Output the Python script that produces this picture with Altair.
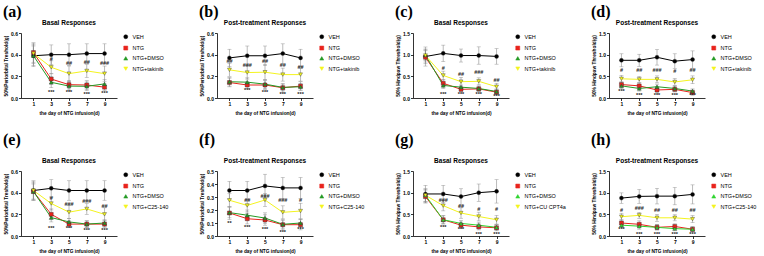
import altair as alt
import pandas as pd

DAYS = [1, 3, 5, 7, 9]
BASE = ["VEH", "NTG", "NTG+DMSO"]

# means: [VEH, NTG, NTG+DMSO, drug]
A_MEAN = [[0.39, 0.40, 0.40, 0.41, 0.41], [0.42, 0.175, 0.123, 0.12, 0.10],
          [0.39, 0.145, 0.11, 0.108, 0.13], [0.41, 0.283, 0.225, 0.25, 0.225]]
A_SD = [[0.10, 0.09, 0.10, 0.09, 0.09], [0.09, 0.05, 0.04, 0.04, 0.03],
        [0.09, 0.05, 0.04, 0.04, 0.04], [0.09, 0.06, 0.07, 0.06, 0.07]]
B_MEAN = [[0.37, 0.39, 0.39, 0.41, 0.37], [0.143, 0.12, 0.12, 0.095, 0.11],
          [0.15, 0.146, 0.128, 0.098, 0.104], [0.26, 0.235, 0.238, 0.216, 0.216]]
B_SD = [[0.08, 0.09, 0.09, 0.09, 0.08], [0.04, 0.03, 0.04, 0.04, 0.04],
        [0.04, 0.04, 0.04, 0.03, 0.03], [0.06, 0.06, 0.07, 0.06, 0.06]]
C_MEAN = [[0.957, 1.03, 0.98, 0.98, 0.96], [0.94, 0.34, 0.2, 0.21, 0.135],
          [0.99, 0.29, 0.25, 0.22, 0.15], [0.98, 0.52, 0.377, 0.385, 0.26]]
C_SD = [[0.22, 0.19, 0.15, 0.2, 0.18], [0.15, 0.08, 0.06, 0.06, 0.06],
        [0.12, 0.07, 0.05, 0.06, 0.06], [0.15, 0.1, 0.1, 0.08, 0.08]]
D_MEAN = [[0.87, 0.87, 0.94, 0.85, 0.887], [0.31, 0.28, 0.185, 0.2, 0.125],
          [0.28, 0.22, 0.26, 0.22, 0.16], [0.443, 0.43, 0.43, 0.37, 0.42]]
D_SD = [[0.15, 0.14, 0.18, 0.17, 0.2], [0.07, 0.07, 0.07, 0.06, 0.06],
        [0.06, 0.06, 0.06, 0.06, 0.05], [0.08, 0.07, 0.08, 0.08, 0.09]]
E_MEAN = [[0.42, 0.44, 0.42, 0.42, 0.42], [0.41, 0.2, 0.11, 0.11, 0.11],
          [0.41, 0.17, 0.13, 0.11, 0.12], [0.42, 0.3, 0.22, 0.25, 0.2]]
E_SD = [[0.09, 0.08, 0.09, 0.09, 0.09], [0.08, 0.05, 0.03, 0.03, 0.03],
        [0.07, 0.04, 0.03, 0.03, 0.03], [0.08, 0.06, 0.06, 0.05, 0.06]]
F_MEAN = [[0.35, 0.35, 0.385, 0.37, 0.37], [0.177, 0.133, 0.123, 0.087, 0.087],
          [0.18, 0.16, 0.138, 0.09, 0.1], [0.275, 0.235, 0.277, 0.182, 0.192]]
F_SD = [[0.07, 0.07, 0.09, 0.08, 0.08], [0.05, 0.04, 0.04, 0.04, 0.04],
        [0.04, 0.04, 0.04, 0.03, 0.03], [0.05, 0.05, 0.05, 0.05, 0.06]]
G_MEAN = [[0.97, 0.97, 0.91, 1.0, 1.03], [0.91, 0.375, 0.25, 0.21, 0.19],
          [0.94, 0.375, 0.29, 0.25, 0.2], [0.94, 0.7, 0.53, 0.45, 0.375]]
G_SD = [[0.2, 0.2, 0.18, 0.2, 0.27], [0.15, 0.1, 0.07, 0.07, 0.07],
        [0.14, 0.09, 0.07, 0.07, 0.06], [0.15, 0.12, 0.12, 0.1, 0.1]]
H_MEAN = [[0.875, 0.914, 0.92, 0.92, 0.96], [0.3, 0.27, 0.2, 0.22, 0.156],
          [0.25, 0.227, 0.2, 0.17, 0.156], [0.445, 0.477, 0.42, 0.42, 0.39]]
H_SD = [[0.12, 0.16, 0.18, 0.2, 0.22], [0.08, 0.08, 0.06, 0.06, 0.06],
        [0.06, 0.07, 0.06, 0.05, 0.05], [0.08, 0.07, 0.08, 0.07, 0.08]]

# significance marks
A_HASH = ([3, 5, 7, 9], ["#", "##", "##", "###"], [0.36, 0.32, 0.33, 0.32])
A_STAR = ([3, 5, 7, 9], ["***"] * 4, [0.06, 0.055, 0.035, 0.045])
B_HASH = ([1, 3, 5, 7, 9], ["##", "###", "##", "##", "##"], [0.34, 0.305, 0.34, 0.305, 0.285])
B_STAR = ([3, 5, 7, 9], ["***"] * 4, [0.07, 0.06, 0.04, 0.035])
C_HASH = ([3, 5, 7, 9], ["#", "##", "###", "##"], [0.69, 0.565, 0.6, 0.41])
C_STAR = ([3, 5, 7, 9], ["***"] * 4, [0.1, 0.1, 0.1, 0.05])
D_HASH = ([1, 3, 5, 7, 9], ["#", "##", "###", "#", "##"], [0.64, 0.64, 0.64, 0.62, 0.64])
D_STAR = ([1, 3, 5, 7, 9], ["***"] * 5, [0.17, 0.07, 0.07, 0.07, 0.07])
E_HASH = ([3, 5, 7, 9], ["#", "###", "###", "##"], [0.35, 0.3, 0.32, 0.275])
E_STAR = ([3, 5, 7, 9], ["***"] * 4, [0.07, 0.07, 0.06, 0.06])
F_HASH = ([3, 5, 7, 9], ["##", "###", "###", "#"], [0.275, 0.31, 0.275, 0.275])
F_STAR = ([1, 3, 5, 7, 9], ["**", "***", "***", "***", "***"], [0.1, 0.07, 0.055, 0.03, 0.055])
G_HASH = ([3, 5, 7, 9], ["###", "##", "#", "#"], [0.82, 0.69, 0.62, 0.62])
G_STAR = ([3, 5, 7, 9], ["***"] * 4, [0.2, 0.16, 0.05, 0.05])
H_HASH = ([1, 3, 5, 7, 9], ["#", "###", "##", "##", "##"], [0.6, 0.65, 0.61, 0.6, 0.6])
H_STAR = ([1, 3, 5, 7, 9], ["***"] * 5, [0.16, 0.05, 0.05, 0.05, 0.05])

PERI = "50%Periorbital Treshold(g)"
PAW = "50% Hindpaw Threshold(g)"
BASAL = "Basal Responses"
POST = "Post-treatment Responses"
TICKS_06 = [0, 0.2, 0.4, 0.6]
TICKS_05 = [0, 0.1, 0.2, 0.3, 0.4, 0.5]
TICKS_15 = [0, 0.5, 1.0, 1.5]

W, H = 96, 65
FONT = "Liberation Sans"
GREY = "#8a8a8a"


def panel(label, title, ytitle, ticks, means, sds, drug, hashes, stars, green, label_y):
    names = BASE + [drug]
    rows = []
    for name, m, s in zip(names, means, sds):
        for d, v, e in zip(DAYS, m, s):
            rows.append({"day": d, "series": name, "mean": v, "lo": v - e, "hi": v + e})
    df = pd.DataFrame(rows)
    hdf = pd.DataFrame({"day": hashes[0], "t": hashes[1], "v": hashes[2]})
    sdf = pd.DataFrame({"day": stars[0], "t": stars[1], "v": stars[2]})
    ldf = pd.DataFrame({"t": [label]})
    tdf = pd.DataFrame({"t": [title]})

    yscale = alt.Scale(domain=[ticks[0], ticks[-1]], nice=False)
    xscale = alt.Scale(type="point", padding=0.7)
    xaxis = alt.Axis(title="the day of NTG infusion(d)", labelAngle=0)
    yaxis = alt.Axis(title=ytitle, values=ticks, format=".1f")

    def xe():
        return alt.X("day:O", scale=xscale, axis=xaxis)

    def ye(field):
        return alt.Y(f"{field}:Q", scale=yscale, axis=yaxis)

    colors = ["#000000", "#e8231c", green, "#f4f41e"]
    cscale = alt.Scale(domain=names, range=colors)
    sscale = alt.Scale(domain=names, range=["circle", "square", "triangle-up", "triangle-down"])
    legend = alt.Legend(title=None, orient="none", legendX=W + 6, legendY=1,
                        labelFontSize=5.5, labelFont=FONT, symbolSize=16,
                        rowPadding=3.3, labelOffset=4, symbolStrokeWidth=0.5,
                        padding=0)

    base = alt.Chart(df)
    err = base.mark_errorbar(ticks=True, color=GREY, thickness=0.6, size=4).encode(
        x=xe(), y=ye("lo"), y2="hi:Q", detail="series:N")
    line = base.mark_line(strokeWidth=1).encode(
        x=xe(), y=ye("mean"),
        color=alt.Color("series:N", scale=cscale, legend=legend),
        order=alt.Order("day:Q"))
    pts = base.mark_point(filled=True, size=16, stroke="#333333", strokeWidth=0.4, opacity=1).encode(
        x=xe(), y=ye("mean"),
        color=alt.Color("series:N", scale=cscale, legend=legend),
        shape=alt.Shape("series:N", scale=sscale, legend=legend))
    htxt = alt.Chart(hdf).mark_text(fontSize=5.5, fontWeight="bold", color="#222222",
                                    font=FONT).encode(x=xe(), y=ye("v"), text="t:N")
    stxt = alt.Chart(sdf).mark_text(fontSize=5.5, fontWeight="bold", color="#222222",
                                    font=FONT).encode(x=xe(), y=ye("v"), text="t:N")
    lab = alt.Chart(ldf).mark_text(fontSize=16, fontWeight="bold", font="Liberation Serif",
                                   align="left", baseline="top", color="#000000").encode(
        x=alt.value(-18), y=alt.value(label_y), text="t:N")
    ttl = alt.Chart(tdf).mark_text(fontSize=6.5, fontWeight="bold", font=FONT,
                                   align="center", baseline="middle", color="#000000").encode(
        x=alt.value(W / 2), y=alt.value(-10), text="t:N")

    return alt.layer(err, line, pts, htxt, stxt, lab, ttl).properties(width=W, height=H)


green1 = "#249a24"
green2 = "#2fd52f"
panels = [
    panel("(a)", BASAL, PERI, TICKS_06, A_MEAN, A_SD, "NTG+takinib", A_HASH, A_STAR, green1, -29),
    panel("(b)", POST, PERI, TICKS_06, B_MEAN, B_SD, "NTG+takinib", B_HASH, B_STAR, green1, -29),
    panel("(c)", BASAL, PAW, TICKS_15, C_MEAN, C_SD, "NTG+takinib", C_HASH, C_STAR, green1, -29),
    panel("(d)", POST, PAW, TICKS_15, D_MEAN, D_SD, "NTG+takinib", D_HASH, D_STAR, green1, -29),
    panel("(e)", BASAL, PERI, TICKS_06, E_MEAN, E_SD, "NTG+C25-140", E_HASH, E_STAR, green1, -39),
    panel("(f)", POST, PERI, TICKS_05, F_MEAN, F_SD, "NTG+C25-140", F_HASH, F_STAR, green1, -39),
    panel("(g)", BASAL, PAW, TICKS_15, G_MEAN, G_SD, "NTG+CU CPT4a", G_HASH, G_STAR, green2, -39),
    panel("(h)", POST, PAW, TICKS_15, H_MEAN, H_SD, "NTG+C25-140", H_HASH, H_STAR, green2, -39),
]

chart = alt.concat(*panels, columns=4, spacing={"row": 73, "column": 100}, bounds="flush").resolve_scale(
    color="independent", shape="independent", x="independent", y="independent"
).properties(
    padding={"left": 3, "top": 4, "right": 0, "bottom": 0}, background="white"
).configure_view(stroke=None).configure_axis(
    grid=False, domainColor="#000000", tickColor="#000000", domainWidth=0.8, tickWidth=0.8,
    tickSize=2.5, labelFont=FONT, labelFontSize=5, labelFontWeight="bold", labelColor="#000000",
    labelPadding=1, titleFont=FONT, titleFontSize=4.8, titleFontWeight="bold",
    titleColor="#000000", titlePadding=2
).configure_axisX(titlePadding=4)

chart.save("out.html", embed_options={"renderer": "svg", "actions": False})
